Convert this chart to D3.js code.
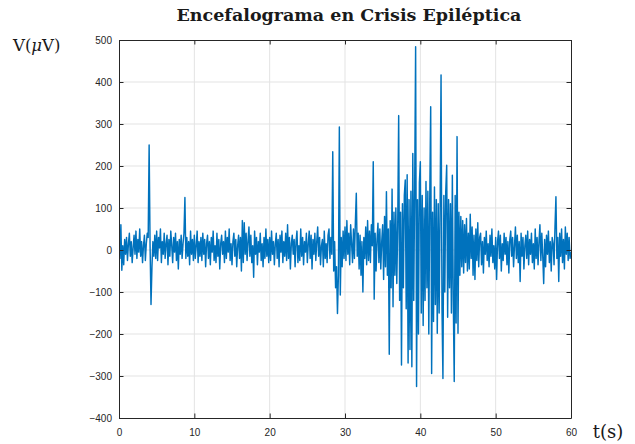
<!DOCTYPE html>
<html>
<head>
<meta charset="utf-8">
<script src="https://cdn.jsdelivr.net/npm/d3@7"></script>
<style>
  html, body { margin: 0; padding: 0; background: #fff; }
  svg { display: block; }
</style>
</head>
<body>
<svg id="chart" width="635" height="444"></svg>
<script>
// EEG recording, 8 samples per second, one row per second (microvolts)
const sampleRate = 8;

const eeg0to10 = [
  45, -20, 60, -48, 10, -35, 25, -10,
  30, -25, 15, 40, -15, 20, -30, 5,
  35, -10, 45, -20, 25, -5, 50, -15,
  20, -30, 10, 35, -25, 15, 40, 30,
  250, 10, -130, -40, 20, -15, 35, -20,
  45, -25, 30, 5, 50, -30, 20, -10,
  40, -20, 15, 35, -35, 25, -15, 45,
  10, -30, 30, -5, 40, -25, 20, -45,
  25, -10, 35, -20, 15, 40, 125, -20,
  30, -15, 20, -35, 45, -10, 25, -25
];

const eeg10to20 = [
  35, -20, 10, 45, -30, 20, -15, 30,
  -25, 40, -10, 25, -40, 15, 35, -20,
  20, -35, 30, -5, 45, -25, 10, -30,
  40, -15, 25, -45, 15, 35, -10, 20,
  -30, 45, -20, 30, -5, 50, -25, 15,
  -35, 20, 40, -15, 25, -40, 10, 35,
  -20, 30, -50, 70, -30, 65, -10, 40,
  -25, 20, 55, -15, 35, -30, 10, -65,
  45, -10, 30, -35, 20, -5, 40, -25,
  15, -40, 30, -20, 50, -15, 25, -30
];

const eeg20to28 = [
  30, -25, 45, -10, 20, -35, 15, 40,
  -20, 25, -40, 35, -5, 45, -30, 20,
  -15, 40, -25, 60, -20, 30, -45, 15,
  35, -10, 25, -40, 20, 45, -30, 10,
  -25, 50, -15, 30, -35, 20, -5, 40,
  -30, 15, 45, -20, 35, -45, 25, -10,
  40, -25, 20, 55, -15, 30, -35, 10,
  25, -40, 45, -20, 15, -30, 35, 50
];

// seizure episode
const eeg28to38 = [
  -20, 30, -10, 234, -50, 20, -90, -40,
  -151, -60, 293, -107, 30, -40, 45, -20,
  55, -25, 70, -10, 40, -35, 60, 15,
  -30, 50, -20, 65, 135, -15, 40, -45,
  35, -60, 20, -100, 30, -20, 55, -35,
  70, -25, 45, -30, 60, 10, 210, -117,
  40, -50, 25, 64, -30, 50, -45, 20,
  60, -70, 80, -40, 139, -60, 50, -248,
  70, -90, 145, -135, 90, -60, 100, -80,
  60, 320, -120, 90, -274, 110, -90, 130
];

const eeg38to48 = [
  167, -140, 179, -269, 120, -237, 140, -278,
  230, -120, 150, 484, -325, 120, -200, 160,
  210, -150, 130, -180, 100, -120, 163, -90,
  140, -200, 120, 341, -294, 90, -170, 150,
  -130, 120, -198, 110, -150, 100, 417, -140,
  -306, 130, -100, 140, 202, -160, 120, -90,
  110, -150, 178, -120, -313, 130, -174, 270,
  -198, 90, -60, 80, -40, 70, -55, 60,
  -30, 75, -50, 40, -45, 85, -20, 55,
  -60, 35, -70, 50, -25, 65, -40, 30
];

const eeg48to60 = [
  40, -35, 20, -55, 30, -10, 45, -25,
  15, -40, 35, -15, 50, -30, 10, -45,
  30, -70, 20, 45, -20, 35, -50, 15,
  -25, 40, -10, 30, -35, 20, -55, 25,
  45, -15, 30, -40, 10, 55, -20, 35,
  -30, 20, -75, 40, -15, 30, -45, 10,
  35, -20, 45, -35, 25, -10, 40, -30,
  15, -45, 50, -20, 30, -35, 20, 60,
  -25, 40, -15, -80, 25, -40, 35, -10,
  45, -30, 20, -50, 30, 15, -35, 55,
  127, -20, 30, -75, 40, -15, 50, -30,
  25, -45, 55, -10, 40, -25, 30, -20,
  -5
];

const xTicks = [0, 10, 20, 30, 40, 50, 60];
const yTicks = [-400, -300, -200, -100, 0, 100, 200, 300, 400, 500];

const signal = [].concat(eeg0to10, eeg10to20, eeg20to28, eeg28to38, eeg38to48, eeg48to60)
  .map((v, i) => ({ t: i / sampleRate, v }));

const svg = d3.select("#chart");
const W = 635, H = 444;
const margin = { top: 40, right: 64, bottom: 26, left: 119 };
const iw = W - margin.left - margin.right;
const ih = H - margin.top - margin.bottom;

const x = d3.scaleLinear().domain([0, 60]).range([0, iw]);
const y = d3.scaleLinear().domain([-400, 500]).range([ih, 0]);

const g = svg.append("g").attr("transform", `translate(${margin.left},${margin.top})`);

// grid
g.append("g").selectAll("line").data(xTicks.slice(1, -1)).join("line")
  .attr("x1", d => x(d)).attr("x2", d => x(d)).attr("y1", 0).attr("y2", ih)
  .attr("stroke", "#e3e3e3").attr("stroke-width", 1);
g.append("g").selectAll("line").data(yTicks.slice(1, -1)).join("line")
  .attr("y1", d => y(d)).attr("y2", d => y(d)).attr("x1", 0).attr("x2", iw)
  .attr("stroke", "#e3e3e3").attr("stroke-width", 1);

// signal trace
g.append("defs").append("clipPath").attr("id", "plotArea")
  .append("rect").attr("width", iw).attr("height", ih);
g.append("path")
  .datum(signal)
  .attr("clip-path", "url(#plotArea)")
  .attr("fill", "none")
  .attr("stroke", "#0072BD")
  .attr("stroke-width", 1.45)
  .attr("stroke-linejoin", "round")
  .attr("d", d3.line().x(d => x(d.t)).y(d => y(d.v)));

// axes with inward ticks on all four sides
const tickLen = 4.5;
function styleAxis(sel) {
  sel.selectAll(".domain").attr("stroke", "#262626");
  sel.selectAll(".tick line").attr("stroke", "#262626");
  sel.selectAll(".tick text")
    .attr("fill", "#262626")
    .style("font-family", "'Liberation Sans', Arial, sans-serif")
    .style("font-size", "10px");
}
g.append("g").attr("transform", `translate(0,${ih})`)
  .call(d3.axisBottom(x).tickValues(xTicks).tickSizeInner(-tickLen).tickSizeOuter(0).tickPadding(11))
  .call(styleAxis);
g.append("g")
  .call(d3.axisLeft(y).tickValues(yTicks).tickSizeInner(-tickLen).tickSizeOuter(0).tickPadding(7))
  .call(styleAxis);
g.append("g")
  .call(d3.axisTop(x).tickValues(xTicks).tickSizeInner(-tickLen).tickSizeOuter(0).tickFormat(""))
  .call(styleAxis);
g.append("g").attr("transform", `translate(${iw},0)`)
  .call(d3.axisRight(y).tickValues(yTicks).tickSizeInner(-tickLen).tickSizeOuter(0).tickFormat(""))
  .call(styleAxis);

// title
svg.append("text")
  .attr("x", margin.left + iw / 2 + 4).attr("y", 21)
  .attr("text-anchor", "middle")
  .style("font-family", "'DejaVu Serif', serif")
  .style("font-weight", "bold")
  .style("font-size", "17.5px")
  .attr("fill", "#1a1a1a")
  .text("Encefalograma en Crisis Epiléptica");

// axis labels
const yl = svg.append("text")
  .attr("x", 13).attr("y", 51)
  .style("font-family", "'DejaVu Serif', serif")
  .style("font-size", "16.5px")
  .attr("fill", "#1a1a1a");
yl.append("tspan").text("V(");
yl.append("tspan").style("font-style", "italic").text("μ");
yl.append("tspan").text("V)");

svg.append("text")
  .attr("x", 608).attr("y", 438)
  .attr("text-anchor", "middle")
  .style("font-family", "'DejaVu Serif', serif")
  .style("font-size", "18px")
  .attr("fill", "#1a1a1a")
  .text("t(s)");
</script>
</body>
</html>
